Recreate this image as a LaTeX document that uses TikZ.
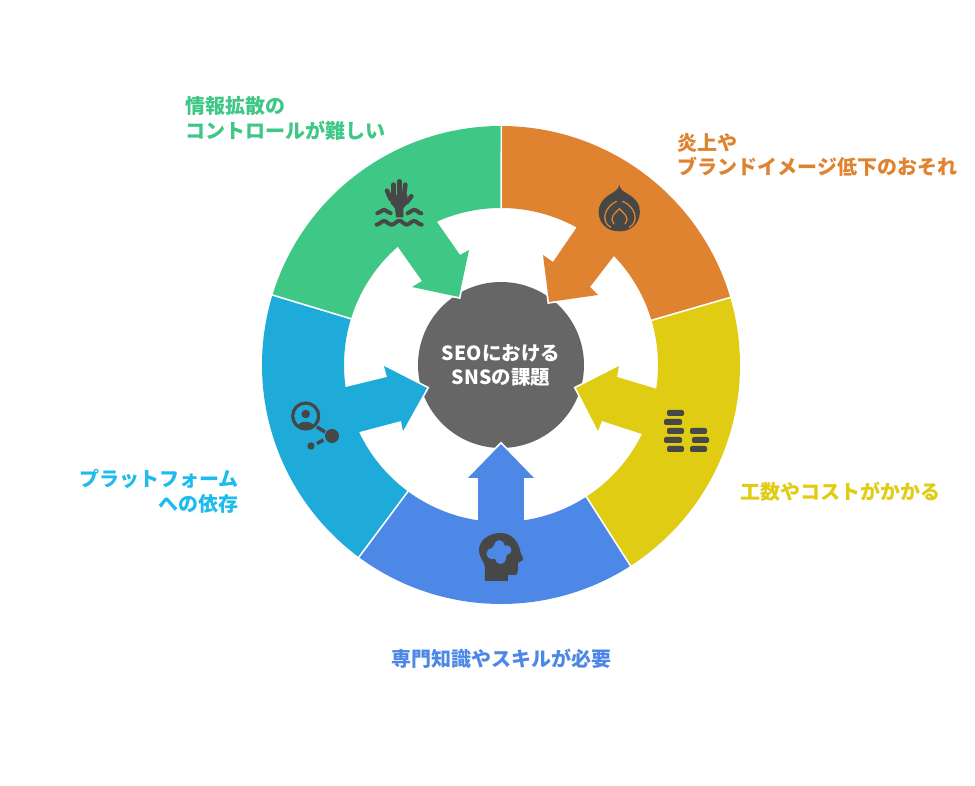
\documentclass[tikz,border=0pt]{standalone}
\usepackage{fontspec}
\setmainfont{Noto Sans CJK JP}
\definecolor{cgreen}{HTML}{3EC785}
\definecolor{corange}{HTML}{DF8331}
\definecolor{cyellow}{HTML}{E0CC13}
\definecolor{cblue}{HTML}{4E88E7}
\definecolor{ccyan}{HTML}{1EABDA}
\definecolor{ccyantext}{HTML}{1EBBEE}
\definecolor{cgray}{HTML}{666666}
\definecolor{cicon}{HTML}{474747}
\tikzset{
  seg/.style={fill=#1,preaction={draw=white,line width=3.4pt,line join=miter,miter limit=6}},
  lab/.style={font=\fontsize{20}{24.5}\selectfont\bfseries,inner sep=0pt,align=left},
  iconfill/.style={fill=cicon,draw=none},
  iconline/.style={draw=cicon,line cap=round,line join=round},
}
% pixel coordinate of the reference -> centre-based coordinate
\newcommand{\Pxy}[2]{({(#1)-501},{365-(#2)})}
\newcommand{\Zf}[2]{\Pxy{590+(#1)/3}{178+(#2)/3}}
\newcommand{\Zh}[2]{\Pxy{370+(#1)/3}{175+(#2)/3}}
\newcommand{\Zb}[2]{\Pxy{460+(#1)/3}{520+(#2)/3}}
\begin{document}
\begin{tikzpicture}[x=1pt,y=1pt]
\useasboundingbox (-501,-421) rectangle (474,365);
\fill[white] (-501,-421) rectangle (474,365);
% centre
\node[circle,fill=cgray,draw=none,minimum size=166pt,inner sep=0pt] (hub) at (0,0) {};
% green
\path[seg=cgreen] (163.2:239) arc[start angle=163.2,end angle=90,radius=239]
 -- (90:157) arc[start angle=90,end angle=114.1,radius=157]
 -- \Pxy{460}{255} -- \Pxy{469}{250} -- \Pxy{459}{297} -- \Pxy{412}{287} -- \Pxy{422}{281}
 -- (131.1:157) arc[start angle=131.1,end angle=163.2,radius=157] -- cycle;
% orange
\path[seg=corange] (89.7:239) arc[start angle=89.7,end angle=16.2,radius=239]
 -- (16.2:157) arc[start angle=16.2,end angle=44,radius=157]
 -- \Pxy{590}{287} -- \Pxy{598}{295} -- \Pxy{549}{302} -- \Pxy{543}{255} -- \Pxy{553}{262}
 -- (61.2:157) arc[start angle=61.2,end angle=89.6,radius=157] -- cycle;
% yellow
\path[seg=cyellow] (16.2:239) arc[start angle=16.2,end angle=-57.4,radius=239]
 -- (-57.4:157) arc[start angle=-57.4,end angle=-26.1,radius=157]
 -- \Pxy{602}{421} -- \Pxy{598}{431} -- \Pxy{576}{388} -- \Pxy{619}{366} -- \Pxy{617}{377}
 -- (-8.7:157) arc[start angle=-8.7,end angle=16.2,radius=157] -- cycle;
% blue
\path[seg=cblue] (-57.4:239) arc[start angle=-57.4,end angle=-126.7,radius=239]
 -- (-126.7:157) arc[start angle=-126.7,end angle=-98.4,radius=157]
 -- \Pxy{478}{478} -- \Pxy{468}{478} -- \Pxy{501}{444} -- \Pxy{534}{478} -- \Pxy{524}{478}
 -- (-81.6:157) arc[start angle=-81.6,end angle=-57.4,radius=157] -- cycle;
% cyan
\path[seg=ccyan] (-126.7:239) arc[start angle=-126.7,end angle=-196.8,radius=239]
 -- (163.2:157) arc[start angle=163.2,end angle=188.1,radius=157]
 -- \Pxy{387}{377} -- \Pxy{384}{366} -- \Pxy{427}{388} -- \Pxy{403}{431} -- \Pxy{401}{421}
 -- (205.3:157) arc[start angle=205.3,end angle=233.3,radius=157] -- cycle;
\node[lab,align=center,text=white,font=\fontsize{19.5}{24}\selectfont\bfseries] (hubtext) at \Pxy{501}{365.5} {SEOにおける\\SNSの課題};
% labels
\node[lab,anchor=west,text=cgreen] (l1) at \Pxy{185.5}{118.5} {情報拡散の\\コントロールが難しい};
\node[lab,anchor=west,text=corange] (l2) at \Pxy{677.5}{155} {炎上や\\ブランドイメージ低下のおそれ};
\node[lab,anchor=west,text=cyellow] (l3) at \Pxy{740}{491.5} {工数やコストがかかる};
\node[lab,anchor=center,text=cblue] (l4) at \Pxy{501.5}{658.5} {専門知識やスキルが必要};
\node[lab,anchor=east,align=right,text=ccyantext] (l5) at \Pxy{239}{491.5} {プラットフォーム\\への依存};
% yellow icon
\foreach \xa/\xb/\yy in {667/684/413,664/682/422,667/684/431,664/682/440,667/684/449,690/707/431,692/709/440,690/707/449}{
  \fill[cicon,rounded corners=2pt] \Pxy{\xa}{\yy-3} rectangle \Pxy{\xb}{\yy+3};
}
% head icon
\path[iconfill] \Pxy{485}{581} -- \Pxy{508}{581} -- \Pxy{508}{575} -- \Pxy{515}{575}
 .. controls \Pxy{518}{575} and \Pxy{518}{572} .. \Pxy{518}{563} -- \Pxy{523}{560}
 .. controls \Pxy{524}{558} and \Pxy{520}{553} .. \Pxy{520}{550}
 .. controls \Pxy{518}{540} and \Pxy{510}{533} .. \Pxy{501}{533}
 .. controls \Pxy{488}{533} and \Pxy{479}{541} .. \Pxy{479}{550}
 .. controls \Pxy{479}{558} and \Pxy{485}{562} .. \Pxy{485}{568} -- cycle;
\fill[cblue] \Zb{118}{76} circle[radius=5.2] \Zb{140}{90} circle[radius=4.8] \Zb{122}{116} circle[radius=5.4]
 \Zb{96}{101} circle[radius=5.6] \Zb{118}{96} circle[radius=8.5];
% magnifier icon
\draw[draw=cicon,line width=3.2pt] \Pxy{305.7}{416} circle[radius=13];
\fill[cicon] \Pxy{305.7}{414} circle[radius=4.3];
\fill[cicon] \Pxy{297.5}{427} .. controls \Pxy{298}{420} and \Pxy{313}{420} .. \Pxy{314}{427}
 .. controls \Pxy{310}{429} and \Pxy{301}{429} .. \Pxy{297.5}{427} -- cycle;
\draw[draw=cicon,line width=3.5pt] \Pxy{317}{427} -- \Pxy{325}{432};
\fill[cicon] \Pxy{332}{436} circle[radius=7];
\fill[cicon] \Pxy{311}{446} circle[radius=3.7];
\draw[draw=cicon,line width=3.5pt] \Pxy{317}{443.5} -- \Pxy{323.5}{440};
% flame icon
\path[iconfill] \Zf{88}{20} .. controls \Zf{90}{45} and \Zf{125}{45} .. \Zf{143}{75}
 .. controls \Zf{160}{105} and \Zf{145}{160} .. \Zf{88}{160}
 .. controls \Zf{30}{160} and \Zf{15}{105} .. \Zf{33}{75}
 .. controls \Zf{50}{45} and \Zf{85}{45} .. \Zf{88}{20} -- cycle;
\draw[corange,line width=1.3pt,line cap=round] \Zf{80}{70} .. controls \Zf{45}{85} and \Zf{30}{130} .. \Zf{62}{148};
\draw[corange,line width=1.3pt,line cap=round] \Zf{98}{70} .. controls \Zf{135}{85} and \Zf{150}{130} .. \Zf{118}{148};
\draw[corange,line width=1.3pt,line cap=round] \Zf{72}{138} .. controls \Zf{55}{115} and \Zf{78}{105} .. \Zf{88}{92}
 .. controls \Zf{98}{105} and \Zf{122}{115} .. \Zf{105}{138};
% hand icon
\foreach \xa/\ya/\xb/\yb in {88/19/88/65,70/29/70/65,106/29/102/65,124/64/110/82,51/47/62/72}{
  \draw[iconline,line width=4.6pt] \Zh{\xa}{\ya} -- \Zh{\xb}{\yb};
}
\path[iconfill] \Zh{60}{60} -- \Zh{112}{60} -- \Zh{113}{85} -- \Zh{100}{100} -- \Zh{100}{127} -- \Zh{78}{127} -- \Zh{75}{100} -- \Zh{62}{85} -- cycle;
\draw[iconline,line width=4pt] \Zh{22}{115} .. controls \Zh{30}{115} and \Zh{34}{104} .. \Zh{42}{104} .. controls \Zh{50}{104} and \Zh{54}{115} .. \Zh{62}{115};
\draw[iconline,line width=4pt] \Zh{113}{115} .. controls \Zh{120}{115} and \Zh{124}{104} .. \Zh{132}{104} .. controls \Zh{140}{104} and \Zh{146}{115} .. \Zh{154}{115};
\draw[iconline,line width=4pt] \Zh{20}{149} .. controls \Zh{28}{149} and \Zh{34}{138} .. \Zh{42}{138}
 .. controls \Zh{50}{138} and \Zh{56}{149} .. \Zh{65}{149}
 .. controls \Zh{74}{149} and \Zh{80}{137} .. \Zh{88}{137}
 .. controls \Zh{96}{137} and \Zh{102}{149} .. \Zh{110}{149}
 .. controls \Zh{118}{149} and \Zh{124}{138} .. \Zh{132}{138}
 .. controls \Zh{140}{138} and \Zh{146}{149} .. \Zh{155}{149};
\end{tikzpicture}
\end{document}
